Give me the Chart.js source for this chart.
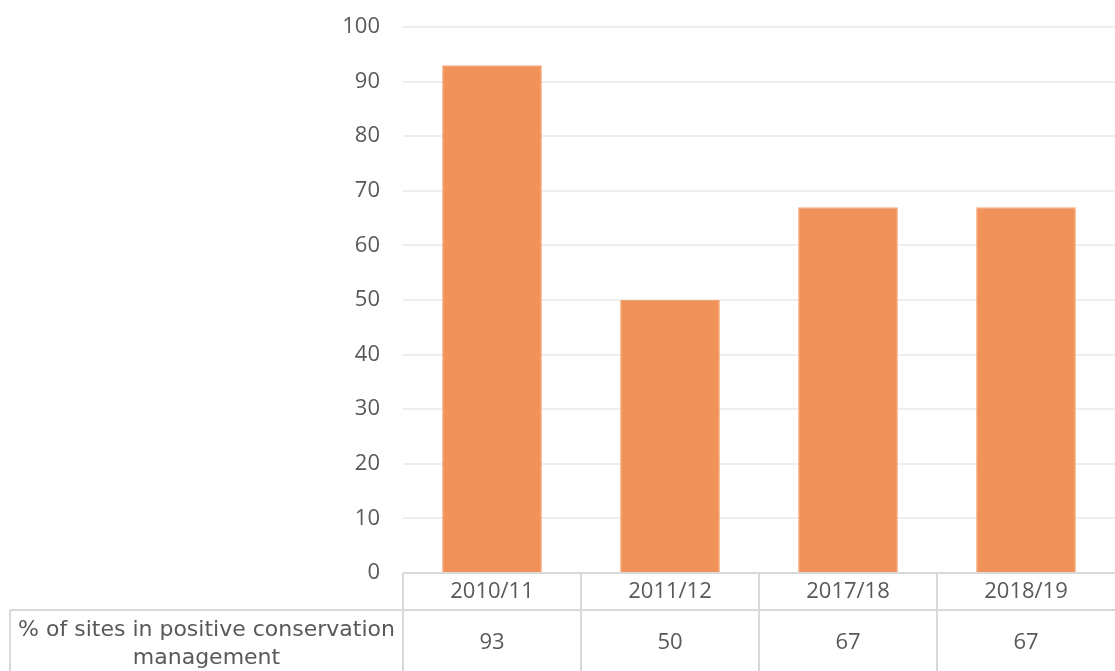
<!DOCTYPE html>
<html>
<head>
<meta charset="utf-8">
<script src="https://cdn.jsdelivr.net/npm/chart.js@4"></script>
<style>
  html, body { margin: 0; padding: 0; background: #fff; }
  #wrap { width: 1115px; height: 671px; }
</style>
</head>
<body>
<div id="wrap"><canvas id="chart" width="1115" height="671"></canvas></div>
<script>
const categories = ['2010/11', '2011/12', '2017/18', '2018/19'];
const seriesLabel = '% of sites in positive conservation management';
const seriesLabelLines = ['% of sites in positive conservation', 'management'];
const values = [93, 50, 67, 67];
const yTicks = [0, 10, 20, 30, 40, 50, 60, 70, 80, 90, 100];

const textColor = '#595959';
const lineColor = '#d9d9d9';
const fontFamily = '"Open Sans", "DejaVu Sans", sans-serif';
const labelFont = '"DejaVu Sans", sans-serif';

// data table drawn under the plot, using the x scale for column positions
const dataTable = {
    id: 'dataTable',
    afterDraw(chart) {
        const { ctx, chartArea, scales } = chart;
        const x = scales.x;
        const top = chartArea.bottom;
        const rowLine = top + 37;
        const bottom = chart.height + 5;
        const colW = (chartArea.right - chartArea.left) / categories.length;

        ctx.save();
        ctx.strokeStyle = lineColor;
        ctx.lineWidth = 2;

        ctx.beginPath();
        ctx.moveTo(chartArea.left, top);
        ctx.lineTo(chartArea.right, top);
        ctx.moveTo(10, rowLine);
        ctx.lineTo(chartArea.right, rowLine);
        ctx.moveTo(10, rowLine);
        ctx.lineTo(10, bottom);
        for (let i = 0; i < categories.length; i++) {
            const cx = chartArea.left + i * colW;
            ctx.moveTo(cx, top);
            ctx.lineTo(cx, bottom);
        }
        ctx.stroke();

        ctx.fillStyle = textColor;
        ctx.font = '22px ' + fontFamily;
        ctx.textAlign = 'center';
        ctx.textBaseline = 'middle';
        categories.forEach((c, i) => {
            const cx = x.getPixelForValue(i);
            ctx.fillText(c, cx, top + 19);
            ctx.fillText(String(values[i]), cx, rowLine + 33);
        });

        const labelX = (10 + chartArea.left) / 2;
        ctx.font = '22px ' + labelFont;
        ctx.fillText(seriesLabelLines[0], labelX, rowLine + 20);
        ctx.fillText(seriesLabelLines[1], labelX, rowLine + 48);
        ctx.restore();
    }
};

new Chart(document.getElementById('chart').getContext('2d'), {
    type: 'bar',
    data: {
        labels: categories,
        datasets: [{
            label: seriesLabel,
            data: values,
            backgroundColor: '#F0925A',
            borderColor: '#F4A677',
            borderWidth: 1,
            categoryPercentage: 1,
            barPercentage: 0.56
        }]
    },
    options: {
        responsive: false,
        animation: false,
        layout: {
            padding: { top: 27, bottom: 98, left: 0, right: 0 }
        },
        plugins: {
            legend: { display: false },
            tooltip: { enabled: false }
        },
        scales: {
            x: {
                display: false
            },
            y: {
                min: 0,
                max: 100,
                afterFit(scale) {
                    scale.width = 403;
                    scale.paddingTop = 0;
                    scale.paddingBottom = 0;
                },
                afterBuildTicks(scale) { scale.ticks = yTicks.map(v => ({ value: v })); },
                border: { display: false },
                grid: { color: '#eeeeee', lineWidth: 2, drawTicks: false },
                ticks: {
                    color: textColor,
                    padding: 23,
                    font: { family: fontFamily, size: 22 }
                }
            }
        }
    },
    plugins: [dataTable]
});
</script>
</body>
</html>
